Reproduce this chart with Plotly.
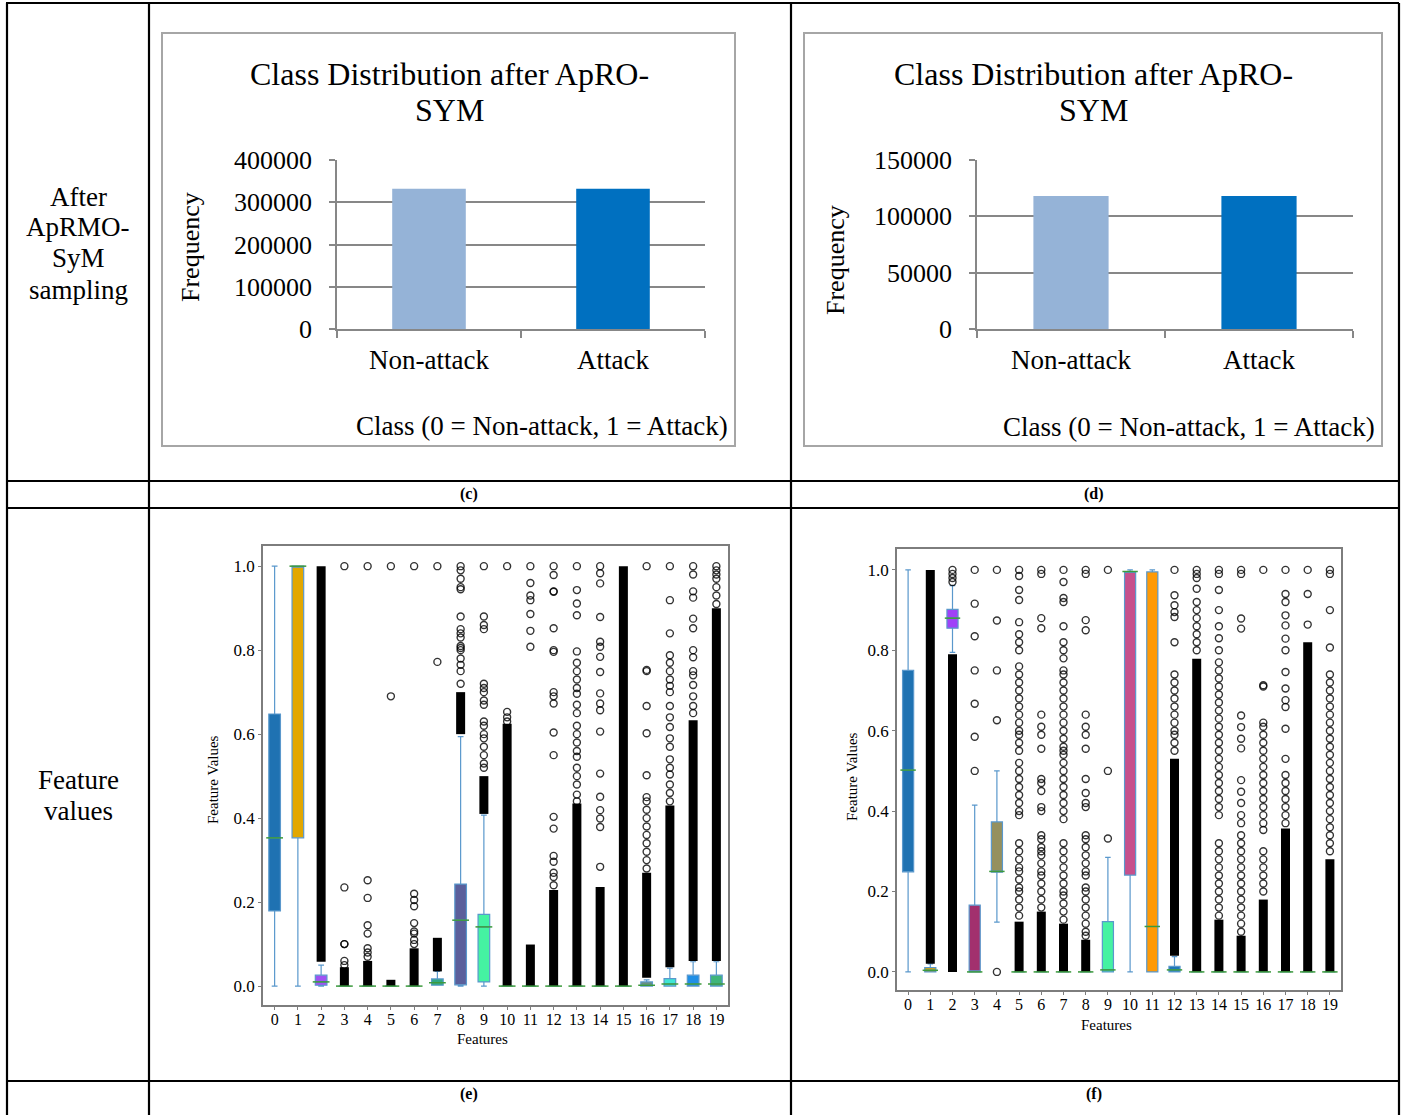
import plotly.graph_objects as go

W, H = 1403, 1115
SERIF = "Liberation Serif, Times New Roman, serif"

# ---------------- data ----------------
CLASSES = ["Non-attack", "Attack"]
FREQ_C = [332000, 332000]
FREQ_D = [118000, 118000]
BAR_COLORS = ["#95b3d7", "#0070c0"]

FEATURES = list(range(20))
Y_TICKS = [0.0, 0.2, 0.4, 0.6, 0.8, 1.0]

# (e) box statistics
E_Q1 = [0.179, 0.353, 0.002, 0, 0, 0, 0, 0.002, 0.003, 0.010, 0, 0, 0, 0, 0, 0, 0.0, 0.0, 0.0, 0.0]
E_MED = [0.353, 1.0, 0.010, 0, 0, 0, 0, 0.008, 0.157, 0.141, 0, 0, 0, 0, 0, 0, 0.002, 0.005, 0.005, 0.005]
E_Q3 = [0.648, 1.0, 0.026, 0, 0, 0, 0, 0.017, 0.243, 0.171, 0, 0, 0, 0, 0, 0, 0.010, 0.018, 0.026, 0.026]
E_LO = [0.0, 0.0, 0.0, 0, 0, 0, 0, 0.002, 0.0, 0.0, 0, 0, 0, 0, 0, 0, 0.0, 0.0, 0.0, 0.0]
E_HI = [1.0, 1.0, 0.05, 0, 0, 0, 0, 0.035, 0.594, 0.407, 0, 0, 0, 0, 0, 0, 0.015, 0.043, 0.058, 0.058]
E_BAND_LO = [None, None, 0.058, 0.0, 0.0, 0.0, 0.0, 0.035, 0.60, 0.41, 0.0, 0.0, 0.0, 0.0, 0.0, 0.0, 0.02, 0.045, 0.06, 0.06]
E_BAND_HI = [None, None, 1.0, 0.045, 0.06, 0.015, 0.09, 0.115, 0.70, 0.50, 0.625, 0.099, 0.229, 0.435, 0.236, 1.0, 0.27, 0.43, 0.633, 0.90]
E_OUT = [
    [], [], [],
    [0.05, 0.06, 0.10, 0.10, 0.235, 1.0],
    [0.07, 0.08, 0.09, 0.125, 0.145, 0.21, 0.252, 1.0],
    [0.69, 1.0],
    [0.10, 0.11, 0.125, 0.13, 0.15, 0.19, 0.205, 0.22, 1.0],
    [0.772, 1.0],
    [0.72, 0.75, 0.765, 0.78, 0.80, 0.805, 0.81, 0.83, 0.84, 0.85, 0.88, 0.945, 0.95, 0.97, 0.99, 1.0],
    [0.52, 0.53, 0.55, 0.57, 0.59, 0.60, 0.62, 0.63, 0.67, 0.68, 0.70, 0.71, 0.72, 0.85, 0.86, 0.88, 1.0],
    [0.63, 0.64, 0.653, 1.0],
    [0.808, 0.846, 0.886, 0.919, 0.93, 0.96, 1.0],
    [0.24, 0.26, 0.27, 0.296, 0.31, 0.375, 0.403, 0.55, 0.604, 0.673, 0.69, 0.70, 0.796, 0.80, 0.852, 0.939, 0.94, 0.979, 1.0],
    [0.44, 0.456, 0.48, 0.50, 0.52, 0.546, 0.56, 0.58, 0.60, 0.62, 0.65, 0.67, 0.696, 0.71, 0.73, 0.75, 0.77, 0.797, 0.883, 0.911, 0.943, 1.0],
    [0.284, 0.379, 0.399, 0.419, 0.451, 0.506, 0.606, 0.657, 0.673, 0.697, 0.748, 0.784, 0.808, 0.82, 0.879, 0.959, 0.983, 1.0],
    [],
    [0.28, 0.30, 0.32, 0.34, 0.36, 0.38, 0.40, 0.42, 0.44, 0.45, 0.502, 0.602, 0.667, 0.75, 0.753, 1.0],
    [0.44, 0.46, 0.48, 0.504, 0.52, 0.54, 0.57, 0.59, 0.617, 0.64, 0.667, 0.70, 0.715, 0.73, 0.75, 0.77, 0.788, 0.84, 0.919, 1.0],
    [0.65, 0.667, 0.69, 0.717, 0.74, 0.75, 0.783, 0.80, 0.852, 0.875, 0.925, 0.94, 0.98, 1.0],
    [0.91, 0.93, 0.95, 0.97, 0.98, 0.99, 1.0],
]

# (f) box statistics
F_Q1 = [0.249, 0.0, 0.855, 0.0, 0.248, 0, 0, 0, 0, 0.0, 0.241, 0.0, 0.0, 0, 0, 0, 0, 0, 0, 0]
F_MED = [0.502, 0.004, 0.880, 0.0, 0.25, 0, 0, 0, 0, 0.005, 0.996, 0.113, 0.005, 0, 0, 0, 0, 0, 0, 0]
F_Q3 = [0.750, 0.011, 0.902, 0.166, 0.373, 0, 0, 0, 0, 0.125, 0.996, 0.995, 0.014, 0, 0, 0, 0, 0, 0, 0]
F_LO = [0.0, 0.0, 0.795, 0.0, 0.124, 0, 0, 0, 0, 0.0, 0.0, 0.0, 0.0, 0, 0, 0, 0, 0, 0, 0]
F_HI = [1.0, 0.02, 0.961, 0.415, 0.50, 0, 0, 0, 0, 0.285, 1.0, 1.0, 0.038, 0, 0, 0, 0, 0, 0, 0]
F_BAND_LO = [None, 0.02, 0.0, None, None, 0.0, 0.0, 0.0, 0.0, None, None, None, 0.04, 0.0, 0.0, 0.0, 0.0, 0.0, 0.0, 0.0]
F_BAND_HI = [None, 1.0, 0.79, None, None, 0.125, 0.15, 0.12, 0.08, None, None, None, 0.53, 0.779, 0.13, 0.09, 0.18, 0.357, 0.82, 0.28]
F_OUT = [
    [], [],
    [0.97, 0.98, 0.99, 1.0],
    [0.50, 0.585, 0.667, 0.75, 0.835, 0.916, 1.0],
    [0.0, 0.626, 0.75, 0.874, 1.0],
    [0.14, 0.16, 0.18, 0.20, 0.21, 0.23, 0.25, 0.26, 0.28, 0.30, 0.32, 0.39, 0.40, 0.42, 0.44, 0.46, 0.48, 0.50,
     0.52, 0.55, 0.57, 0.59, 0.60, 0.62, 0.64, 0.66, 0.68, 0.70, 0.72, 0.74, 0.76, 0.80, 0.82, 0.84, 0.87, 0.925, 0.95, 0.985, 1.0],
    [0.16, 0.18, 0.20, 0.22, 0.24, 0.25, 0.27, 0.29, 0.30, 0.31, 0.33, 0.34, 0.40, 0.41, 0.45, 0.47, 0.48, 0.555,
     0.59, 0.61, 0.64, 0.855, 0.88, 0.99, 1.0],
    [0.13, 0.15, 0.17, 0.19, 0.20, 0.22, 0.24, 0.26, 0.28, 0.30, 0.32, 0.38, 0.40, 0.42, 0.44, 0.46, 0.48, 0.50,
     0.52, 0.54, 0.55, 0.56, 0.58, 0.60, 0.62, 0.64, 0.66, 0.68, 0.70, 0.72, 0.74, 0.75, 0.78, 0.80, 0.82, 0.86,
     0.92, 0.93, 0.97, 1.0],
    [0.09, 0.10, 0.12, 0.14, 0.16, 0.18, 0.20, 0.21, 0.24, 0.25, 0.27, 0.29, 0.31, 0.33, 0.34, 0.41, 0.42, 0.445,
     0.48, 0.555, 0.59, 0.61, 0.64, 0.85, 0.875, 0.99, 1.0],
    [0.332, 0.50, 1.0],
    [], [],
    [0.55, 0.57, 0.59, 0.60, 0.62, 0.64, 0.66, 0.68, 0.70, 0.72, 0.74, 0.82, 0.883, 0.895, 0.912, 0.937, 1.0],
    [0.80, 0.82, 0.84, 0.86, 0.88, 0.90, 0.92, 0.953, 0.98, 0.99, 1.0],
    [0.14, 0.16, 0.18, 0.20, 0.22, 0.24, 0.26, 0.28, 0.30, 0.32, 0.39, 0.41, 0.43, 0.45, 0.47, 0.49, 0.51, 0.53,
     0.55, 0.57, 0.59, 0.61, 0.63, 0.65, 0.67, 0.69, 0.71, 0.73, 0.75, 0.77, 0.80, 0.83, 0.86, 0.90, 0.95, 0.99, 1.0],
    [0.10, 0.12, 0.14, 0.16, 0.18, 0.20, 0.22, 0.24, 0.26, 0.28, 0.30, 0.32, 0.34, 0.37, 0.39, 0.42, 0.448, 0.477,
     0.556, 0.58, 0.609, 0.638, 0.854, 0.879, 0.99, 1.0],
    [0.20, 0.22, 0.24, 0.26, 0.28, 0.30, 0.353, 0.37, 0.39, 0.41, 0.43, 0.45, 0.47, 0.49, 0.51, 0.53, 0.55, 0.57,
     0.59, 0.61, 0.62, 0.71, 0.713, 1.0],
    [0.37, 0.39, 0.41, 0.43, 0.45, 0.47, 0.49, 0.53, 0.605, 0.659, 0.676, 0.705, 0.746, 0.80, 0.829, 0.862, 0.887,
     0.92, 0.94, 1.0],
    [0.864, 0.94, 1.0],
    [0.30, 0.32, 0.34, 0.36, 0.38, 0.40, 0.42, 0.44, 0.46, 0.48, 0.50, 0.52, 0.54, 0.56, 0.58, 0.60, 0.62, 0.64,
     0.66, 0.68, 0.70, 0.72, 0.74, 0.807, 0.90, 0.99, 1.0],
]

# styles
E_COLORS = ["#1f72b2", "#e2a700", "#a052f2", "#888888", "#888888", "#888888", "#888888", "#2fa882",
            "#5b5f9b", "#45f2a2", "#888888", "#888888", "#888888", "#888888", "#888888", "#888888",
            "#6a8f7e", "#3fe6d4", "#1f8fe6", "#3fb57a"]
F_COLORS = ["#1f72b2", "#c4a22a", "#a042f8", "#a2306e", "#95905e", "#888888", "#888888", "#888888",
            "#888888", "#45f2a2", "#c6508c", "#ff9a05", "#1f78b8", "#888888", "#888888", "#888888",
            "#888888", "#888888", "#888888", "#888888"]
WHISKER = "#5a98cc"
MEDIAN = "#3c9a3c"


def fx(p):
    return p / W


def fy(p):
    return 1 - p / H


fig = go.Figure()

# ---------------- bar charts ----------------
for vals, ax in [(FREQ_C, ""), (FREQ_D, "2")]:
    fig.add_trace(go.Bar(x=CLASSES, y=vals, width=0.4,
                         marker=dict(color=BAR_COLORS, line=dict(width=0)),
                         xaxis="x" + ax, yaxis="y" + ax, showlegend=False))


# ---------------- box plots ----------------
def add_boxes(ax, q1, med, q3, lo, hi, colors, blo, bhi, outs, medsize):
    for i in FEATURES:
        fig.add_trace(go.Box(x=[i], q1=[q1[i]], median=[med[i]], q3=[q3[i]],
                             lowerfence=[lo[i]], upperfence=[hi[i]],
                             width=0.5, whiskerwidth=0.5, boxpoints=False,
                             fillcolor=colors[i], line=dict(color=WHISKER, width=1.2),
                             xaxis="x" + ax, yaxis="y" + ax, showlegend=False))
    bx, by = [], []
    for i in FEATURES:
        if blo[i] is not None:
            bx += [i, i, None]
            by += [blo[i], bhi[i], None]
    fig.add_trace(go.Scatter(x=bx, y=by, mode="lines", line=dict(color="black", width=9),
                             xaxis="x" + ax, yaxis="y" + ax, showlegend=False))
    ox, oy = [], []
    for i in FEATURES:
        for v in outs[i]:
            ox.append(i)
            oy.append(v)
    fig.add_trace(go.Scatter(x=ox, y=oy, mode="markers",
                             marker=dict(symbol="circle-open", size=7,
                                         color="rgba(0,0,0,0.8)", line=dict(width=1.4)),
                             xaxis="x" + ax, yaxis="y" + ax, showlegend=False))
    fig.add_trace(go.Scatter(x=FEATURES, y=med, mode="markers",
                             marker=dict(symbol="line-ew", size=medsize,
                                         line=dict(color=MEDIAN, width=1.5)),
                             xaxis="x" + ax, yaxis="y" + ax, showlegend=False))


add_boxes("3", E_Q1, E_MED, E_Q3, E_LO, E_HI, E_COLORS, E_BAND_LO, E_BAND_HI, E_OUT, 12)
add_boxes("4", F_Q1, F_MED, F_Q3, F_LO, F_HI, F_COLORS, F_BAND_LO, F_BAND_HI, F_OUT, 11)

# ---------------- axes ----------------
GRID = "#878787"
bar_x = dict(showline=True, linecolor=GRID, linewidth=1.5, ticks="outside", ticklen=7,
             tickcolor=GRID, tickwidth=1.5, tickson="boundaries", showgrid=False, automargin=False,
             tickfont=dict(size=27, family=SERIF, color="black"), range=[-0.5, 1.5],
             fixedrange=True, ticklabelstandoff=6)
bar_y = dict(showline=True, linecolor=GRID, linewidth=1.5, ticks="outside", ticklen=6,
             tickcolor=GRID, tickwidth=1.5, showgrid=True, gridcolor=GRID, gridwidth=1.5,
             zeroline=False, tickformat="d", tickfont=dict(size=26, family=SERIF, color="black"),
             fixedrange=True, ticklabelstandoff=12, automargin=False)
box_x = dict(showline=True, mirror=True, linecolor="#7d7d7d", linewidth=1.5, ticks="outside",
             ticklen=3, tickcolor="#7d7d7d", showgrid=False, zeroline=False, range=[-0.5, 19.5],
             tickvals=FEATURES, tickfont=dict(size=16, family=SERIF, color="black"), automargin=False,
             ticklabelstandoff=-4)
box_y = dict(showline=True, mirror=True, linecolor="#7d7d7d", linewidth=1.5, ticks="outside",
             ticklen=3, tickcolor="#7d7d7d", showgrid=False, zeroline=False,
             tickvals=Y_TICKS, ticktext=["%.1f" % v for v in Y_TICKS], automargin=False,
             tickfont=dict(size=17, family=SERIF, color="black"))

layout = dict(
    width=W, height=H, autosize=False, margin=dict(l=0, r=0, t=0, b=0, pad=0, autoexpand=False),
    paper_bgcolor="white", plot_bgcolor="white", showlegend=False,
    font=dict(family=SERIF, color="black"), boxmode="overlay",
    xaxis=dict(bar_x, domain=[fx(337), fx(705)], anchor="y"),
    yaxis=dict(bar_y, domain=[fy(329), fy(160)], anchor="x", range=[0, 400000], dtick=100000),
    xaxis2=dict(bar_x, domain=[fx(977), fx(1353)], anchor="y2"),
    yaxis2=dict(bar_y, domain=[fy(329), fy(160)], anchor="x2", range=[0, 150000], dtick=50000),
    xaxis3=dict(box_x, domain=[fx(263), fx(728)], anchor="y3"),
    yaxis3=dict(box_y, domain=[fy(1005), fy(546)], anchor="x3", range=[-0.045, 1.048]),
    xaxis4=dict(box_x, domain=[fx(897), fx(1341)], anchor="y4"),
    yaxis4=dict(box_y, domain=[fy(990), fy(549)], anchor="x4", range=[-0.045, 1.052]),
)
fig.update_layout(**layout)

# ---------------- text ----------------
def note(text, x, y, size, angle=0, bold=False):
    if bold:
        text = "<b>" + text + "</b>"
    fig.add_annotation(text=text, x=fx(x), y=fy(y), xref="paper", yref="paper",
                       xanchor="center", yanchor="middle", showarrow=False, textangle=angle,
                       font=dict(size=size, family=SERIF, color="black"))


for cx in (449, 1093):
    note("Class Distribution after ApRO-", cx, 74, 32)
    note("SYM", cx, 110, 32)
note("Frequency", 190, 247, 26, -90)
note("Frequency", 835, 260, 26, -90)
note("Class (0 = Non-attack, 1 = Attack)", 542, 426, 27)
note("Class (0 = Non-attack, 1 = Attack)", 1189, 427, 27)

for t, yy in [("After", 197), ("ApRMO-", 227), ("SyM", 258), ("sampling", 290)]:
    note(t, 78, yy, 27)
note("Feature", 78, 780, 27)
note("values", 78, 811, 27)

note("(c)", 469, 494, 16, bold=True)
note("(d)", 1094, 494, 16, bold=True)
note("(e)", 469, 1094, 16, bold=True)
note("(f)", 1094, 1094, 16, bold=True)

note("Features", 482, 1039, 15)
note("Feature Values", 213, 780, 15, -90)
note("Features", 1106, 1025, 15)
note("Feature Values", 852, 777, 15, -90)

# ---------------- frames / table ----------------
def rect(x0, y0, x1, y1, color, width):
    fig.add_shape(type="rect", xref="paper", yref="paper", x0=fx(x0), y0=fy(y0), x1=fx(x1), y1=fy(y1),
                  line=dict(color=color, width=width), fillcolor="rgba(0,0,0,0)", layer="above")


def line(x0, y0, x1, y1):
    fig.add_shape(type="line", xref="paper", yref="paper", x0=fx(x0), y0=fy(y0), x1=fx(x1), y1=fy(y1),
                  line=dict(color="black", width=2.2), layer="above")


rect(162, 33, 735, 446, "#a6a6a6", 2)
rect(804, 33, 1382, 446, "#a6a6a6", 2)
line(6, 3, 1399, 3)
for xx in (7, 149, 791, 1399):
    line(xx, 3, xx, 1115)
for yy in (481, 508, 1081):
    line(7, yy, 1399, yy)

fig.write_html("out.html",
               default_width="%dpx" % W, default_height="%dpx" % H,
               config={"displayModeBar": False},
               post_script="document.body.style.margin='0';document.body.style.padding='0';"
                           "document.body.style.overflow='hidden';"
                           "document.documentElement.style.overflow='hidden';")
